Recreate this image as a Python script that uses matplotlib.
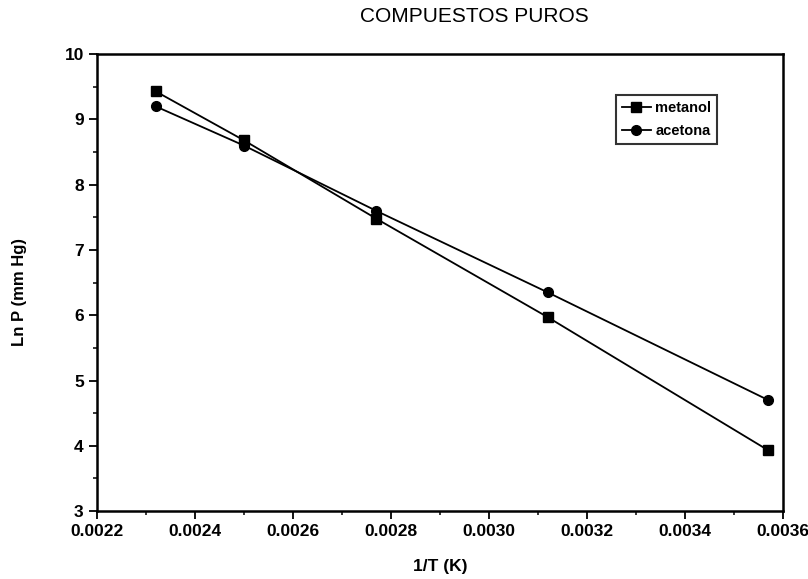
import numpy as np
import matplotlib
matplotlib.use("Agg")
import matplotlib.pyplot as plt
from matplotlib.ticker import MultipleLocator, FormatStrFormatter

plt.rcParams['font.family'] = ['Liberation Sans', 'DejaVu Sans']

# data
inv_t = [0.00232, 0.00250, 0.00277, 0.00312, 0.00357]
metanol = [9.43, 8.68, 7.48, 5.97, 3.93]
acetona = [9.20, 8.60, 7.60, 6.35, 4.70]

fig = plt.figure(figsize=(8.08, 5.79), dpi=100)
ax = fig.add_axes([0.120, 0.1174, 0.849, 0.789])

ax.plot(inv_t, metanol, '-', color='black', lw=1.3, marker='s', ms=7,
        label='metanol')
ax.plot(inv_t, acetona, '-', color='black', lw=1.3, marker='o', ms=7,
        label='acetona')

ax.set_xlim(0.0022, 0.0036)
ax.set_ylim(3, 10)
ax.xaxis.set_major_locator(MultipleLocator(0.0002))
ax.xaxis.set_minor_locator(MultipleLocator(0.0001))
ax.xaxis.set_major_formatter(FormatStrFormatter('%.4f'))
ax.yaxis.set_major_locator(MultipleLocator(1))
ax.yaxis.set_minor_locator(MultipleLocator(0.5))
ax.tick_params(which='major', direction='out', length=6, width=1.3,
               labelsize=12.5)
ax.tick_params(which='minor', direction='out', length=3, width=1.1)
for lbl in ax.get_xticklabels() + ax.get_yticklabels():
    lbl.set_fontweight('bold')
for s in ax.spines.values():
    s.set_linewidth(1.8)

ax.set_xlabel('1/T (K)', fontsize=12.5, fontweight='bold', labelpad=14)
ax.set_ylabel('Ln P (mm Hg)', fontsize=12, fontweight='bold')
ax.yaxis.set_label_coords(-0.102, 0.48)
fig.text(0.587, 0.971, 'COMPUESTOS PUROS', fontsize=15, ha='center',
         va='center')

leg = ax.legend(loc='upper right', bbox_to_anchor=(0.904, 0.910),
                frameon=True, fancybox=False, edgecolor='black',
                handlelength=2.0, handletextpad=0.3, borderpad=0.4,
                labelspacing=0.6, borderaxespad=0,
                prop={'weight': 'bold', 'size': 10.5})
leg.get_frame().set_linewidth(1.5)

fig.savefig('out.png', dpi=100)
